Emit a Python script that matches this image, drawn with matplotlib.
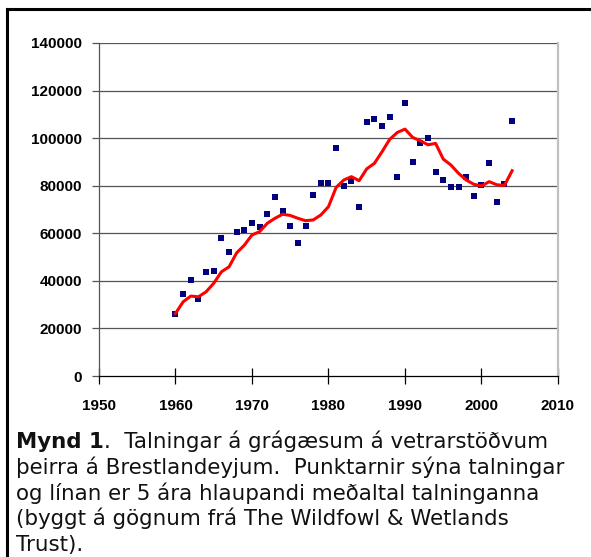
import numpy as np
import matplotlib.pyplot as plt
from matplotlib.lines import Line2D

years = np.arange(1960, 2005)

# talningar (punktar)
counts = [26000, 34600, 40200, 32200, 43600, 44300, 58000, 52300, 60500, 61400,
          64300, 62500, 68000, 75400, 69200, 62900, 55900, 62900, 76000, 81000,
          81000, 95800, 79700, 81800, 70900, 106800, 107900, 105000, 109000, 83500,
          114800, 89800, 97900, 99900, 85700, 82400, 79400, 79400, 83500, 75700,
          80100, 89700, 73000, 80800, 107000]

# 5 ara hlaupandi medaltal (lina)
mean5 = [26300, 31200, 33600, 33300, 35400, 39000, 43800, 45900, 51800, 55000,
         59300, 60700, 64200, 66300, 68000, 67500, 66300, 65300, 65600, 67700,
         71200, 79300, 82400, 83800, 82100, 87100, 89400, 94300, 99500, 102400,
         103800, 100300, 98900, 97200, 97800, 91200, 88700, 85200, 82400, 80600,
         79900, 81700, 80400, 80100, 86300]

xticks = [1950, 1960, 1970, 1980, 1990, 2000, 2010]
yticks = [0, 20000, 40000, 60000, 80000, 100000, 120000, 140000]

caption = ["Talningar á grágæsum á vetrarstöðvum",
           "þeirra á Brestlandeyjum.  Punktarnir sýna talningar",
           "og línan er 5 ára hlaupandi meðaltal talninganna",
           "(byggt á gögnum frá The Wildfowl & Wetlands",
           "Trust)."]

plt.rcParams['font.family'] = ['Liberation Sans', 'DejaVu Sans']

W, H = 591, 557
fig = plt.figure(figsize=(W/100, H/100), dpi=100)
ax = fig.add_axes([99/W, 1 - 376/H, (558 - 99)/W, (376 - 43)/H])

for y in yticks[1:]:
    ax.axhline(y, color='#555555', lw=0.9, zorder=1)

ax.plot(years, counts, 's', color='#000080', ms=4.3, mew=0, zorder=3)
ax.plot(years, mean5, '-', color='#ff0000', lw=2.2, zorder=4)

ax.set_xlim(1950, 2010)
ax.set_ylim(0, 140000)
ax.set_xticks(xticks)
ax.set_yticks(yticks)
ax.set_xticklabels([str(t) for t in xticks], fontsize=11, fontweight='bold')
ax.set_yticklabels([str(t) for t in yticks], fontsize=11, fontweight='bold')
ax.tick_params(axis='x', direction='inout', length=11, width=0.9, pad=11, color='black')
ax.tick_params(axis='y', direction='out', length=5, width=0.9, pad=7, color='#555555')

ax.spines['top'].set_visible(False)
ax.spines['left'].set_color('#555555')
ax.spines['left'].set_linewidth(0.9)
ax.spines['bottom'].set_color('black')
ax.spines['bottom'].set_linewidth(0.9)
ax.spines['right'].set_color('#c0c0c0')
ax.spines['right'].set_linewidth(1.6)

# rammi (efst og vinstra megin)
fig.add_artist(Line2D([7/W, 1], [1 - 9/H, 1 - 9/H], color='black', lw=2.2,
                      transform=fig.transFigure))
fig.add_artist(Line2D([7/W, 7/W], [0, 1 - 9/H], color='black', lw=2.2,
                      transform=fig.transFigure))

# myndatexti
cfont = dict(family='DejaVu Sans', fontsize=15.4, color='#111111', va='baseline')
base = 448
t = fig.text(16/W, 1 - base/H, "Mynd 1", fontweight='bold', **cfont)
fig.canvas.draw()
x1 = t.get_window_extent().x1 / fig.bbox.width
fig.text(x1, 1 - base/H, ".  " + caption[0], **cfont)
for i, line in enumerate(caption[1:]):
    fig.text(16/W, 1 - (base + 25.8*(i + 1))/H, line, **cfont)

fig.savefig('out.png', dpi=100)
